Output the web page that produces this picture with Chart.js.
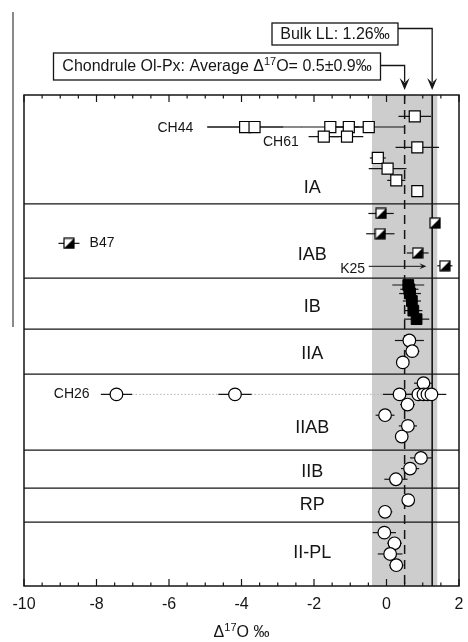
<!DOCTYPE html>
<html>
<head>
<meta charset="utf-8">
<script src="https://cdn.jsdelivr.net/npm/chart.js@4.4.0/dist/chart.umd.min.js"></script>
<style>
  html, body { margin: 0; padding: 0; background: #fff; }
  #wrap { width: 468px; height: 642px; position: relative; }
</style>
</head>
<body>
<div id="wrap"><canvas id="chart" width="468" height="642"></canvas></div>
<script>
// Δ17O of chondrule olivine / pyroxene, grouped by chondrule type

const xTickLabels = [-10, -8, -6, -4, -2, 0, 2];
const groupNames = ['IA', 'IAB', 'IB', 'IIA', 'IIAB', 'IIB', 'RP', 'II-PL'];
const groupLabelRows = [8.7, 15.0, 19.9, 24.3, 31.2, 35.3, 38.4, 42.9];
const groupDividers = [10.2, 17.15, 21.93, 26.15, 33.27, 36.83, 40.02];

const bulkLL = 1.26;
const chondruleMean = 0.5;
const chondruleSd = 0.9;

// type IA (open squares)
const iaX   = [0.78, -3.90, -3.64, -1.55, -1.04, -0.49, -1.73, -1.09, 0.85, -0.24, 0.03, 0.27, 0.85];
const iaErr = [0.45, 1.05, 1.30, 0.80, 0.60, 1.00, 0.42, 0.45, 0.60, 0.22, 0.52, 0.25, 0.15];
const iaRow = [2.0, 3.0, 3.0, 3.0, 3.0, 3.0, 3.9, 3.9, 4.9, 5.9, 6.9, 8.0, 9.0];

// type IAB (half-filled squares)
const iabX   = [-0.15, 1.34, -0.17, -8.76, 0.86, 1.61];
const iabErr = [0.35, 0.0, 0.39, 0.29, 0.30, 0.21];
const iabRow = [11.1, 12.0, 13.0, 13.9, 14.8, 16.0];

// type IB (filled squares)
const ibX   = [0.60, 0.63, 0.65, 0.70, 0.74, 0.83];
const ibErr = [0.44, 0.25, 0.30, 0.25, 0.25, 0.35];
const ibRow = [17.8, 18.2, 18.6, 19.3, 20.2, 21.0];

// type II (open circles)
const iiaX   = [0.63, 0.71, 0.45];
const iiaErr = [0.40, 0.20, 0.10];
const iiaRow = [23.0, 24.0, 25.05];

const iiabX   = [1.02, -7.45, -4.18, 0.36, 0.88, 1.02, 1.13, 1.24, 0.58, -0.04, 0.59, 0.42];
const iiabErr = [0.26, 0.43, 0.46, 0.46, 0.30, 0.30, 0.30, 0.41, 0.20, 0.26, 0.25, 0.10];
const iiabRow = [27.0, 28.05, 28.05, 28.05, 28.05, 28.05, 28.05, 28.05, 29.0, 30.0, 31.0, 32.0];

const iibX   = [0.95, 0.65, 0.26];
const iibErr = [0.30, 0.25, 0.32];
const iibRow = [34.0, 35.0, 36.0];

const rpX   = [0.60, -0.04];
const rpErr = [0.10, 0.20];
const rpRow = [37.95, 39.05];

const iiplX   = [-0.06, 0.22, 0.10, 0.27];
const iiplErr = [0.32, 0.20, 0.34, 0.20];
const iiplRow = [41.0, 42.0, 43.0, 44.05];

// named individual chondrules
const pointLabels = ['CH44', 'CH61', 'B47', 'CH26', 'K25'];
const pointLabelX = [-5.33, -2.42, -8.19, -8.19, -0.59];
const pointLabelRow = [3.1, 4.4, 13.9, 28.0, 16.3];
const pointLabelAlign = ['right', 'right', 'left', 'right', 'right'];

const FONT = "'Liberation Sans', Arial, Helvetica, sans-serif";
const INK = '#151515';

function toPoints(xs, rows, errs) {
    return xs.map((v, i) => ({ x: v, y: rows[i], e: errs[i] }));
}

// half white / half black square marker
function halfSquare(side) {
    const c = document.createElement('canvas');
    c.width = side + 2;
    c.height = side + 2;
    const g = c.getContext('2d');
    g.fillStyle = '#fff';
    g.fillRect(1, 1, side, side);
    g.fillStyle = '#000';
    g.beginPath();
    g.moveTo(1 + side, 1);
    g.lineTo(1 + side, 1 + side);
    g.lineTo(1, 1 + side);
    g.closePath();
    g.fill();
    g.strokeStyle = '#000';
    g.lineWidth = 1.2;
    g.strokeRect(1, 1, side, side);
    return c;
}

function drawRich(ctx, parts, x, y, size, align) {
    const subSize = Math.round(size * 0.66);
    let total = 0;
    parts.forEach(p => {
        ctx.font = (p.sup ? subSize : size) + 'px ' + FONT;
        p.w = ctx.measureText(p.t).width;
        total += p.w;
    });
    let cx = align === 'center' ? x - total / 2 : x;
    ctx.textAlign = 'left';
    ctx.textBaseline = 'middle';
    parts.forEach(p => {
        ctx.font = (p.sup ? subSize : size) + 'px ' + FONT;
        ctx.fillText(p.t, cx, p.sup ? y - size * 0.33 : y);
        cx += p.w;
    });
}

function arrowHead(ctx, x, y, dir, len, half) {
    ctx.beginPath();
    if (dir === 'down') {
        ctx.moveTo(x, y);
        ctx.lineTo(x - half, y - len);
        ctx.lineTo(x, y - len * 0.6);
        ctx.lineTo(x + half, y - len);
    } else {
        ctx.moveTo(x, y);
        ctx.lineTo(x - len, y - half);
        ctx.lineTo(x - len * 0.6, y);
        ctx.lineTo(x - len, y + half);
    }
    ctx.closePath();
    ctx.fill();
}

const backdrop = {
    id: 'backdrop',
    beforeDatasetsDraw(chart) {
        const { ctx, chartArea: a, scales: { x, y } } = chart;
        ctx.save();
        // 1 sigma band of chondrule average
        const b1 = x.getPixelForValue(chondruleMean - chondruleSd);
        const b2 = x.getPixelForValue(chondruleMean + chondruleSd);
        ctx.fillStyle = '#cdcdcd';
        ctx.fillRect(b1, a.top, b2 - b1, a.bottom - a.top);

        // group dividers
        ctx.strokeStyle = INK;
        ctx.lineWidth = 1.3;
        groupDividers.forEach(r => {
            const py = y.getPixelForValue(r);
            ctx.beginPath();
            ctx.moveTo(a.left, py);
            ctx.lineTo(a.right, py);
            ctx.stroke();
        });

        // average (dashed) and bulk LL (solid)
        const pm = x.getPixelForValue(chondruleMean);
        ctx.setLineDash([9, 6]);
        ctx.lineWidth = 1.5;
        ctx.beginPath();
        ctx.moveTo(pm, a.top);
        ctx.lineTo(pm, a.bottom);
        ctx.stroke();
        ctx.setLineDash([]);
        const pb = x.getPixelForValue(bulkLL);
        ctx.lineWidth = 1.6;
        ctx.beginPath();
        ctx.moveTo(pb, a.top);
        ctx.lineTo(pb, a.bottom);
        ctx.stroke();

        // CH26 dotted link
        const ry = y.getPixelForValue(iiabRow[1]);
        ctx.strokeStyle = '#b5b5b5';
        ctx.lineWidth = 1;
        ctx.setLineDash([1.5, 2]);
        ctx.beginPath();
        ctx.moveTo(x.getPixelForValue(iiabX[1] + iiabErr[1]), ry);
        ctx.lineTo(x.getPixelForValue(-0.1), ry);
        ctx.stroke();
        ctx.setLineDash([]);

        // error bars
        ctx.strokeStyle = INK;
        ctx.lineWidth = 1.2;
        chart.data.datasets.forEach(ds => {
            ds.data.forEach(p => {
                if (!p.e) return;
                const py = y.getPixelForValue(p.y);
                ctx.beginPath();
                ctx.moveTo(x.getPixelForValue(p.x - p.e), py);
                ctx.lineTo(x.getPixelForValue(p.x + p.e), py);
                ctx.stroke();
            });
        });
        ctx.restore();
    },
    afterDraw(chart) {
        const { ctx, chartArea: a, scales: { x, y } } = chart;
        ctx.save();
        ctx.fillStyle = INK;
        ctx.strokeStyle = INK;

        // frame
        ctx.lineWidth = 1.5;
        ctx.strokeRect(a.left, a.top, a.right - a.left, a.bottom - a.top);

        // inward ticks, top and bottom
        ctx.lineWidth = 1.2;
        for (let v = -10; v <= 2; v += 0.5) {
            const px = x.getPixelForValue(v);
            const len = v % 2 === 0 ? 7 : 3.5;
            ctx.beginPath();
            ctx.moveTo(px, a.bottom);
            ctx.lineTo(px, a.bottom - len);
            ctx.moveTo(px, a.top);
            ctx.lineTo(px, a.top + len);
            ctx.stroke();
        }

        // group names
        ctx.font = '18px ' + FONT;
        ctx.textAlign = 'center';
        ctx.textBaseline = 'middle';
        groupNames.forEach((n, i) => {
            ctx.fillText(n, x.getPixelForValue(-2.05), y.getPixelForValue(groupLabelRows[i]));
        });

        // named chondrules
        ctx.font = '14px ' + FONT;
        pointLabels.forEach((t, i) => {
            ctx.textAlign = pointLabelAlign[i];
            ctx.fillText(t, x.getPixelForValue(pointLabelX[i]), y.getPixelForValue(pointLabelRow[i]));
        });

        // K25 arrow
        const ky = y.getPixelForValue(16.05);
        const k1 = x.getPixelForValue(-0.49);
        const k2 = x.getPixelForValue(1.1);
        ctx.lineWidth = 1;
        ctx.beginPath();
        ctx.moveTo(k1, ky);
        ctx.lineTo(k2 - 4, ky);
        ctx.stroke();
        arrowHead(ctx, k2, ky, 'right', 7, 3);

        // annotation boxes with arrows to the reference lines
        const pb = x.getPixelForValue(bulkLL);
        const pm = x.getPixelForValue(chondruleMean);
        ctx.lineWidth = 1.3;
        ctx.strokeRect(272, 23, 126, 22);
        ctx.beginPath();
        ctx.moveTo(398, 28.5);
        ctx.lineTo(pb, 28.5);
        ctx.lineTo(pb, 82);
        ctx.stroke();
        arrowHead(ctx, pb, 90, 'down', 12, 5);
        ctx.strokeRect(53.5, 53, 327, 27);
        ctx.beginPath();
        ctx.moveTo(380.5, 65.5);
        ctx.lineTo(pm, 65.5);
        ctx.lineTo(pm, 82);
        ctx.stroke();
        arrowHead(ctx, pm, 90, 'down', 12, 5);

        drawRich(ctx, [{ t: 'Bulk LL: 1.26‰' }], 335, 34.5, 16, 'center');
        drawRich(ctx, [
            { t: 'Chondrule Ol-Px: Average Δ' },
            { t: '17', sup: true },
            { t: 'O= 0.5±0.9‰' }
        ], 217, 67, 16, 'center');

        // axis title
        drawRich(ctx, [
            { t: 'Δ' },
            { t: '17', sup: true },
            { t: 'O ‰' }
        ], (a.left + a.right) / 2, 633, 16, 'center');

        // stray page rule at far left
        ctx.lineWidth = 1;
        ctx.beginPath();
        ctx.moveTo(13, 12);
        ctx.lineTo(13, 327);
        ctx.stroke();
        ctx.restore();
    }
};

new Chart(document.getElementById('chart').getContext('2d'), {
    type: 'scatter',
    data: {
        datasets: [
            {
                label: 'IA',
                data: toPoints(iaX, iaRow, iaErr),
                pointStyle: 'rect',
                pointRadius: 7.8,
                backgroundColor: '#fff',
                borderColor: '#000',
                borderWidth: 1.2
            },
            {
                label: 'IAB',
                data: toPoints(iabX, iabRow, iabErr),
                pointStyle: halfSquare(10),
                pointRadius: 6
            },
            {
                label: 'IB',
                data: toPoints(ibX, ibRow, ibErr),
                pointStyle: 'rect',
                pointRadius: 7.6,
                backgroundColor: '#000',
                borderColor: '#000',
                borderWidth: 1
            },
            {
                label: 'II',
                data: [].concat(
                    toPoints(iiaX, iiaRow, iiaErr),
                    toPoints(iiabX, iiabRow, iiabErr),
                    toPoints(iibX, iibRow, iibErr),
                    toPoints(rpX, rpRow, rpErr),
                    toPoints(iiplX, iiplRow, iiplErr)
                ),
                pointStyle: 'circle',
                pointRadius: 6.3,
                backgroundColor: '#fff',
                borderColor: '#000',
                borderWidth: 1.2
            }
        ]
    },
    options: {
        responsive: false,
        animation: false,
        devicePixelRatio: 1,
        layout: { padding: { top: 95, left: 24, right: 7, bottom: 0 } },
        plugins: {
            legend: { display: false },
            tooltip: { enabled: false }
        },
        scales: {
            x: {
                type: 'linear',
                min: -10,
                max: 2,
                afterFit: s => {
                    s.height = 56;
                    s.paddingLeft = 0;
                    s.paddingRight = 0;
                },
                afterBuildTicks: s => { s.ticks = xTickLabels.map(v => ({ value: v })); },
                grid: { display: false, drawTicks: false },
                border: { display: false },
                ticks: {
                    padding: 9,
                    color: INK,
                    font: { family: FONT, size: 16 },
                    maxRotation: 0
                }
            },
            y: {
                type: 'linear',
                reverse: true,
                min: 0,
                max: 46,
                display: false
            }
        }
    },
    plugins: [backdrop]
});
</script>
</body>
</html>
